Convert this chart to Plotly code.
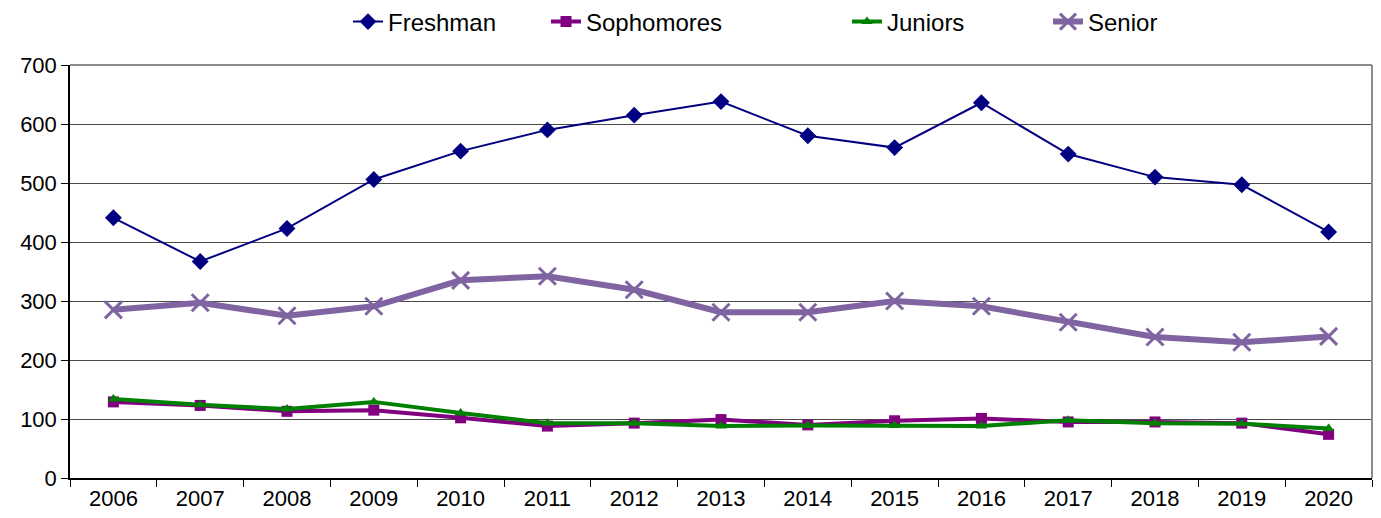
import plotly.graph_objects as go

years = ["2006", "2007", "2008", "2009", "2010", "2011", "2012", "2013",
         "2014", "2015", "2016", "2017", "2018", "2019", "2020"]
freshman = [441, 367, 423, 506, 554, 590, 615, 638, 580, 560, 636, 549, 510, 497, 417]
sophomores = [129, 123, 113, 115, 102, 88, 93, 99, 90, 97, 101, 95, 95, 93, 74]
juniors = [134, 124, 117, 129, 110, 93, 93, 88, 89, 89, 88, 98, 93, 92, 84]
senior = [285, 297, 275, 291, 335, 342, 319, 281, 281, 300, 291, 264, 239, 230, 240]

FONT = "Liberation Sans, Arial, sans-serif"

fig = go.Figure()
fig.add_trace(go.Scatter(x=years, y=freshman, name="Freshman", mode="lines+markers",
                         line=dict(color="#000080", width=2),
                         marker=dict(symbol="diamond", size=13, color="#000080"),
                         legend="legend5", showlegend=True))
fig.add_trace(go.Scatter(x=years, y=senior, name="Senior", mode="lines+markers",
                         line=dict(color="#8064A2", width=6),
                         marker=dict(symbol="x-thin-open", size=17,
                                     line=dict(color="#8064A2", width=3)),
                         legend="legend4", showlegend=True))
fig.add_trace(go.Scatter(x=years, y=sophomores, name="Sophomores", mode="lines+markers",
                         line=dict(color="#800080", width=4),
                         marker=dict(symbol="square", size=11, color="#800080"),
                         legend="legend2", showlegend=True))
fig.add_trace(go.Scatter(x=years, y=juniors, name="Juniors", mode="lines+markers",
                         line=dict(color="#008000", width=4),
                         marker=dict(symbol="triangle-up", size=10, color="#008000"),
                         legend="legend3", showlegend=True))

# page offset (default body margin of the html page)
OFF = 8
W, H = 1381 - OFF, 518 - OFF
plot_l, plot_r, plot_t, plot_b = 70 - OFF, 1372 - OFF, 65 - OFF, 478 - OFF
pw = plot_r - plot_l
ph = plot_b - plot_t


def leg(text_x):
    tx = text_x - OFF
    return dict(x=(tx - 40 - plot_l) / pw, xanchor="left",
                y=(plot_b - (22 - OFF)) / ph, yanchor="middle",
                orientation="h", bgcolor="rgba(0,0,0,0)",
                font=dict(family=FONT, size=24, color="#000000"))


fig.update_layout(
    width=W, height=H,
    margin=dict(l=plot_l, r=W - plot_r, t=plot_t, b=H - plot_b, autoexpand=False),
    paper_bgcolor="white", plot_bgcolor="white",
    font=dict(family=FONT, size=22, color="#000000"),
    legend5=leg(388),
    legend2=leg(586),
    legend3=leg(887),
    legend4=leg(1088),
    xaxis=dict(type="category", range=[-0.5, len(years) - 0.5],
               tickson="boundaries", ticks="outside", ticklen=7,
               tickcolor="#000000", showline=True, linecolor="#000000", linewidth=1.5,
               showgrid=False, tickfont=dict(family=FONT, size=22)),
    yaxis=dict(range=[0, 700], dtick=100, ticks="outside", ticklen=7, tickcolor="#000000",
               showline=True, linecolor="#000000", linewidth=1.5,
               showgrid=True, gridcolor="#4a4a4a", gridwidth=1,
               zeroline=False, tickfont=dict(family=FONT, size=22)),
    shapes=[
        dict(type="line", xref="paper", yref="paper", x0=0, x1=1, y0=1, y1=1,
             line=dict(color="#8c8c8c", width=2)),
        dict(type="line", xref="paper", yref="paper", x0=1, x1=1, y0=0, y1=1,
             line=dict(color="#8c8c8c", width=2)),
    ],
)

fig.write_html("out.html")
